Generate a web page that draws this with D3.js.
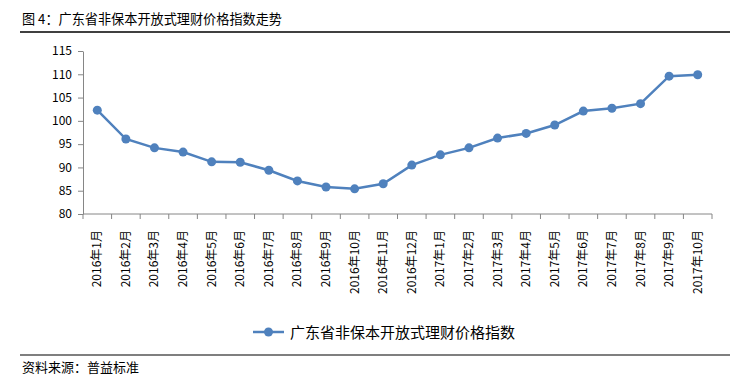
<!DOCTYPE html>
<html><head><meta charset="utf-8">
<script src="https://cdn.jsdelivr.net/npm/d3@7"></script>
<style>body{margin:0;background:#fff}svg{display:block}text{font-family:"Noto Sans CJK SC","Liberation Sans",sans-serif}</style>
</head><body><svg id="c" width="730" height="383"></svg>
<script>
const categories = ["2016年1月","2016年2月","2016年3月","2016年4月","2016年5月","2016年6月","2016年7月","2016年8月","2016年9月","2016年10月","2016年11月","2016年12月","2017年1月","2017年2月","2017年3月","2017年4月","2017年5月","2017年6月","2017年7月","2017年8月","2017年9月","2017年10月"];
const values = [102.3,96.1,94.2,93.3,91.2,91.1,89.4,87.1,85.8,85.4,86.5,90.5,92.7,94.2,96.3,97.3,99.1,102.1,102.7,103.7,109.6,109.9];
const yTicks = [80,85,90,95,100,105,110,115];
const seriesName = "广东省非保本开放式理财价格指数";
const title = "图 4：广东省非保本开放式理财价格指数走势";
const source = "资料来源：普益标准";

const svg = d3.select("#c");
const color = "#4F81BD", axisColor = "#868686";
const mLeft = 83, mRight = 712, mTop = 51, mBottom = 214;

svg.append("text").attr("x",22).attr("y",24).attr("font-size",13.5).attr("fill","#000")
  .attr("textLength",260).attr("lengthAdjust","spacingAndGlyphs").text(title);
svg.append("line").attr("x1",20).attr("x2",730).attr("y1",32).attr("y2",32).attr("stroke","#000").attr("stroke-width",1.5);

const x = d3.scaleBand().domain(categories).range([mLeft,mRight]);
const y = d3.scaleLinear().domain([80,115]).range([mBottom,mTop]);

const ya = svg.append("g").attr("transform",`translate(${mLeft},0)`)
  .call(d3.axisLeft(y).tickValues(yTicks).tickSize(5).tickSizeOuter(0).tickPadding(6));
ya.select(".domain").attr("stroke",axisColor);
ya.selectAll(".tick line").attr("stroke",axisColor);
ya.selectAll("text").attr("font-size",12).attr("fill","#000").attr("font-family","'Liberation Sans',sans-serif");

const xa = svg.append("g").attr("transform",`translate(0,${mBottom})`);
xa.append("line").attr("x1",mLeft).attr("x2",mRight).attr("y1",0).attr("y2",0).attr("stroke",axisColor);
const bounds = categories.map(c=>x(c)).concat([mRight]);
xa.selectAll("line.t").data(bounds).enter().append("line").attr("class","t")
  .attr("x1",d=>d).attr("x2",d=>d).attr("y1",0).attr("y2",5).attr("stroke",axisColor);
xa.selectAll("text").data(categories).enter().append("text")
  .attr("transform",d=>`translate(${x(d)+x.bandwidth()/2+4},${16}) rotate(-90)`)
  .attr("text-anchor","end").attr("font-size",12).attr("fill","#000").text(d=>d);

const pts = categories.map((c,i)=>[x(c)+x.bandwidth()/2, y(values[i])]);
svg.append("path").attr("d",d3.line()(pts)).attr("fill","none").attr("stroke",color).attr("stroke-width",2.5);
svg.selectAll("circle.p").data(pts).enter().append("circle").attr("class","p")
  .attr("cx",d=>d[0]).attr("cy",d=>d[1]).attr("r",4.5).attr("fill",color);

const lg = svg.append("g");
lg.append("line").attr("x1",253).attr("x2",284).attr("y1",332).attr("y2",332).attr("stroke",color).attr("stroke-width",2.5);
lg.append("circle").attr("cx",268.5).attr("cy",332).attr("r",4.5).attr("fill",color);
lg.append("text").attr("x",290).attr("y",337.5).attr("font-size",15).attr("fill","#000")
  .attr("textLength",225).attr("lengthAdjust","spacingAndGlyphs").text(seriesName);

svg.append("line").attr("x1",20).attr("x2",730).attr("y1",355).attr("y2",355).attr("stroke","#000").attr("stroke-width",1.2);
svg.append("text").attr("x",22).attr("y",372).attr("font-size",13).attr("fill","#000").text(source);
</script></body></html>
